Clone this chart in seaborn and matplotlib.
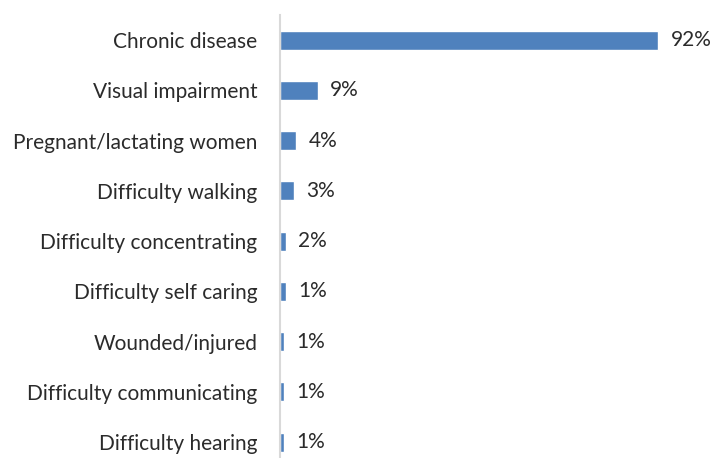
import matplotlib
matplotlib.use("Agg")
import matplotlib.pyplot as plt
import seaborn as sns
import pandas as pd

# ==================== Data ====================
categories = [
    "Chronic disease",
    "Visual impairment",
    "Pregnant/lactating women",
    "Difficulty walking",
    "Difficulty concentrating",
    "Difficulty self caring",
    "Wounded/injured",
    "Difficulty communicating",
    "Difficulty hearing",
]
percent = [92, 9.2, 3.9, 3.4, 1.5, 1.4, 1.0, 1.0, 1.0]
labels = ["92%", "9%", "4%", "3%", "2%", "1%", "1%", "1%", "1%"]

BAR_COLOR = "#4F81BD"
TEXT_COLOR = "#2B2B2B"

sns.set_style("white")
plt.rcParams["font.family"] = ["Lato", "DejaVu Sans"]

df = pd.DataFrame({"category": categories, "percent": percent})

fig = plt.figure(figsize=(7.12, 4.58), dpi=100)
ax = fig.add_axes([0.393, -0.02, 0.578, 0.987])

sns.barplot(data=df, x="percent", y="category", orient="h",
            color=BAR_COLOR, saturation=1, width=0.38, ax=ax)

for i, (v, lab) in enumerate(zip(percent, labels)):
    ax.annotate(lab, xy=(v, i), xytext=(9, 0), textcoords="offset points",
                va="center", ha="left", fontsize=15, color=TEXT_COLOR)

ax.set_xlim(0, 100)
ax.set_xlabel("")
ax.set_ylabel("")
ax.set_xticks([])
ax.tick_params(axis="y", length=0, pad=16, labelsize=15, labelcolor=TEXT_COLOR)

for side in ["top", "right", "bottom"]:
    ax.spines[side].set_visible(False)
ax.spines["left"].set_color("#D9D9D9")
ax.spines["left"].set_linewidth(1.5)

fig.savefig("out.png", dpi=100)
